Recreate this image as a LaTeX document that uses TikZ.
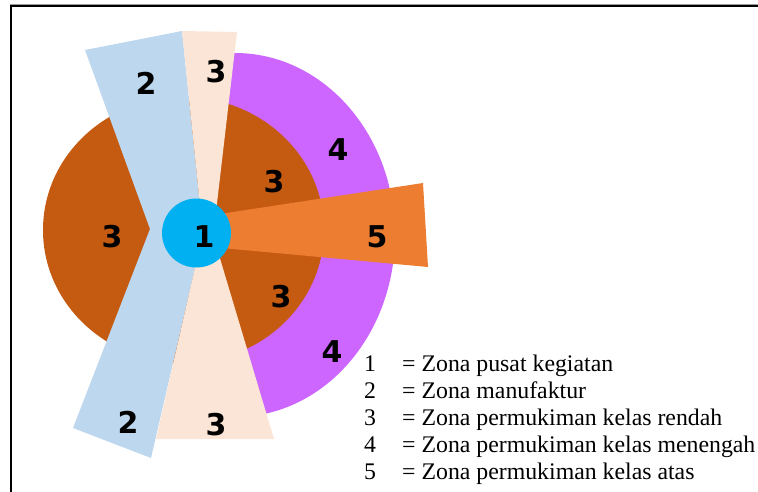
\documentclass[tikz,border=0pt]{standalone}
\usepackage{fontspec}
\setmainfont{Liberation Serif}
\newfontfamily\zonefont{DejaVu Sans}
\definecolor{zblue}{HTML}{BDD7EE}
\definecolor{zpeach}{HTML}{FBE5D6}
\definecolor{zbrown}{HTML}{C55A11}
\definecolor{zpurple}{HTML}{CC66FF}
\definecolor{zorange}{HTML}{ED7D31}
\definecolor{zcore}{HTML}{00B0F0}
\begin{document}
\begin{tikzpicture}[x=1pt,y=-1pt,
  num/.style={font=\zonefont\bfseries\fontsize{30}{32}\selectfont, inner sep=0pt},
  legnum/.style={font=\fontsize{23.8}{27}\selectfont, inner sep=0pt, anchor=base west},
  legtxt/.style={font=\fontsize{23.8}{27}\selectfont, inner sep=0pt, anchor=base west}]
\useasboundingbox (0,0) rectangle (758,491);
% frame
\draw[black!40, line width=1pt] (10,4.3) -- (760,4.3);
\draw[line width=2.2pt] (11.3,495) |- (762,6.2);
% zone 4: middle-class ring
\fill[zpurple] (226,56) -- (235,53) arc[start angle=-90, end angle=90, x radius=160, y radius=182] -- (226,417) -- cycle;
% zone 3: low-class ring
\fill[zbrown] (183.5,230) ellipse[x radius=140.5, y radius=133];
% zone 5: upper-class sector
\fill[zorange] (200,217) -- (423,183) -- (428,267) -- (200,246) -- cycle;
% zone 2: manufacturing wedges
\fill[zblue] (85,50) -- (182,31) -- (203,234) -- (151,458) -- (73,428) -- (150,229) -- cycle;
% zone 3: low-class wedges
\fill[zpeach] (182,31) -- (237,32) -- (213.4,234) -- (203,234) -- cycle;
\fill[zpeach] (207,215) -- (274,439) -- (156,439) -- cycle;
% zone 1: centre
\fill[zcore] (196.5,233) circle[radius=34.5];
% zone numbers
\node[num] (n1)  at (204,237) {1};
\node[num] (n2a) at (146,83)  {2};
\node[num] (n2b) at (128,422) {2};
\node[num] (n3a) at (216,72)  {3};
\node[num] (n3b) at (274,182) {3};
\node[num] (n3c) at (112,237) {3};
\node[num] (n3d) at (281,297) {3};
\node[num] (n3e) at (216,425) {3};
\node[num] (n4a) at (338,150) {4};
\node[num] (n4b) at (332,352) {4};
\node[num] (n5)  at (377,237) {5};
% legend
\foreach \k/\t [count=\i from 0] in {1/Zona pusat kegiatan, 2/Zona manufaktur, 3/Zona permukiman kelas rendah, 4/Zona permukiman kelas menengah, 5/Zona permukiman kelas atas}{
  \node[legnum] (ln\k) at (364,371+27.2*\i) {\k};
  \node[legtxt] (lt\k) at (402,371+27.2*\i) {= \t};
}
\end{tikzpicture}
\end{document}
